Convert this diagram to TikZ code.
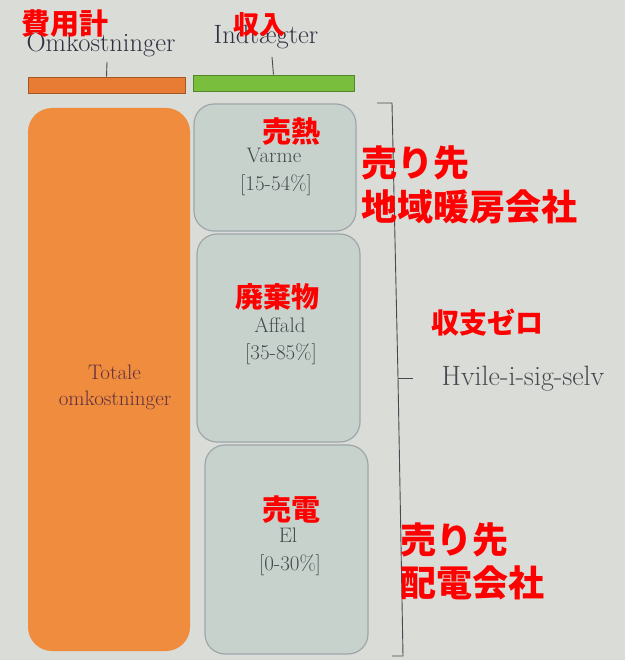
\documentclass[tikz,border=0pt]{standalone}
\usepackage{fontspec}
\newfontfamily\cjk{Noto Sans CJK JP}
\definecolor{bg}{RGB}{218,220,216}
\definecolor{orbox}{RGB}{239,140,62}
\definecolor{orbar}{RGB}{233,124,52}
\definecolor{grbar}{RGB}{122,190,62}
\definecolor{boxfill}{RGB}{200,210,204}
\definecolor{boxline}{RGB}{158,166,170}
\definecolor{jred}{RGB}{255,0,0}
\definecolor{headtxt}{RGB}{48,48,64}
\definecolor{intxt}{RGB}{70,74,80}
\definecolor{tottxt}{RGB}{96,48,62}
\definecolor{bracecol}{RGB}{72,74,82}
\begin{document}
\begin{tikzpicture}[x=1pt,y=-1pt,
  greenbox/.style={draw=boxline, fill=boxfill, line width=1.2pt, rounded corners=20pt, inner sep=0pt},
  redlbl/.style={text=jred, font=\cjk\bfseries, inner sep=0pt},
  serif/.style={inner sep=0pt, anchor=base},
  bar/.style={inner sep=0pt, minimum height=16pt},
  braceline/.style={draw=bracecol, line width=0.9pt}
]
\fill[bg] (0,0) rectangle (625,660);
\useasboundingbox (0,0) rectangle (625,660);

% headers
\node[serif, text=headtxt, font=\fontsize{26.5}{30}\selectfont] (omk) at (101,52) {Omkostninger};
\node[serif, text=headtxt, font=\fontsize{26.5}{30}\selectfont] (ind) at (266,44) {Indtægter};

% top bars
\node[bar, fill=orbar, draw=orbar!70!black, line width=0.6pt, minimum width=157pt] (obar) at (106.5,85) {};
\node[bar, fill=grbar, draw=grbar!70!black, line width=0.6pt, minimum width=161pt] (gbar) at (273.5,83) {};
\coordinate (otick) at (107,62);
\coordinate (gtick) at (272,57);
\draw[braceline] (obar.north) -- (otick);
\draw[braceline] (gbar.north) -- (gtick);

% boxes
\node[fill=orbox, rounded corners=24pt, minimum width=162pt, minimum height=543pt, inner sep=0pt] (tot) at (109,379.5) {};
\node[greenbox, minimum width=162pt, minimum height=127pt] (varme) at (275,167.5) {};
\node[greenbox, minimum width=163pt, minimum height=208pt] (affald) at (278.5,338) {};
\node[greenbox, minimum width=163pt, minimum height=209pt] (el) at (286.5,549.5) {};

% texts in boxes
\node[serif, text=tottxt, font=\fontsize{21}{25}\selectfont] (tot1) at (114.5,379) {Totale};
\node[serif, text=tottxt, font=\fontsize{21}{25}\selectfont] (tot2) at (115,405) {omkostninger};

\node[serif, text=intxt, font=\fontsize{21}{25}\selectfont] (v1) at (274,163) {Varme};
\node[serif, text=intxt, font=\fontsize{21}{25}\selectfont] (v2) at (276,191) {[15-54\%]};
\node[serif, text=intxt, font=\fontsize{21}{25}\selectfont] (a1) at (280,332) {Affald};
\node[serif, text=intxt, font=\fontsize{21}{25}\selectfont] (a2) at (281,359) {[35-85\%]};
\node[serif, text=intxt, font=\fontsize{21}{25}\selectfont] (e1) at (288,542) {El};
\node[serif, text=intxt, font=\fontsize{21}{25}\selectfont] (e2) at (290,570) {[0-30\%]};

% right brace
\coordinate (bt0) at (377,103);
\coordinate (bt1) at (392,103);
\coordinate (bm) at (398,378);
\coordinate (bmt) at (413,378);
\coordinate (bb1) at (403,656);
\coordinate (bb0) at (392,656);
\draw[braceline] (bt0) -- (bt1) -- (bm) -- (bb1) -- (bb0);
\draw[braceline] (bm) -- (bmt);
\node[serif, text=intxt, font=\fontsize{28}{32}\selectfont] (hvile) at (523,385) {Hvile-i-sig-selv};

% red annotations
\node[redlbl, font=\cjk\bfseries\fontsize{29}{32}\selectfont] (j1) at (65,24) {費用計};
\node[redlbl, font=\cjk\bfseries\fontsize{26}{30}\selectfont] (j2) at (259,25) {収入};
\node[redlbl, font=\cjk\bfseries\fontsize{29}{32}\selectfont] (j3) at (291,132) {売熱};
\node[redlbl, font=\cjk\bfseries\fontsize{28}{32}\selectfont] (j4) at (277,297) {廃棄物};
\node[redlbl, font=\cjk\bfseries\fontsize{29}{32}\selectfont] (j5) at (291,510) {売電};
\node[redlbl, font=\cjk\bfseries\fontsize{28}{32}\selectfont] (j6) at (487,323) {収支ゼロ};
\node[redlbl, anchor=west, font=\cjk\bfseries\fontsize{36}{40}\selectfont] (j7) at (361,163) {売り先};
\node[redlbl, anchor=west, font=\cjk\bfseries\fontsize{36}{40}\selectfont] (j8) at (361,207) {地域暖房会社};
\node[redlbl, anchor=west, font=\cjk\bfseries\fontsize{36}{40}\selectfont] (j9) at (400,540) {売り先};
\node[redlbl, anchor=west, font=\cjk\bfseries\fontsize{36}{40}\selectfont] (j10) at (400,583) {配電会社};
\end{tikzpicture}
\end{document}
